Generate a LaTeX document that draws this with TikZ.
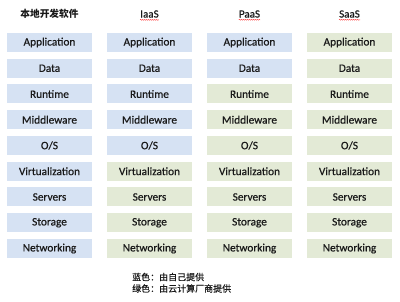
\documentclass[tikz,border=0pt]{standalone}
\usepackage{fontspec}
\setmainfont{Carlito}
\newfontfamily\boxfont{Carlito}[FakeBold=0.6]
\newfontfamily\cjk{Noto Sans CJK SC}
\newfontfamily\cjkm{Noto Sans CJK SC}[FakeBold=0.5]
\usetikzlibrary{decorations.pathmorphing}
\definecolor{bluebox}{RGB}{214,226,243}
\definecolor{greenbox}{RGB}{227,234,214}
\begin{document}
\begin{tikzpicture}[x=1pt,y=-1pt,
  cell/.style={minimum width=85pt,minimum height=19pt,inner sep=0pt,font=\boxfont\fontsize{11.3}{13}\selectfont,text=black!90},
  bcell/.style={cell,fill=bluebox},
  gcell/.style={cell,fill=greenbox},
  head/.style={inner sep=0pt,font=\boxfont\fontsize{11}{13}\selectfont,text=black!90},
  chead/.style={inner sep=0pt,font=\cjk\bfseries\fontsize{9.7}{12}\selectfont,text=black!90},
  legend/.style={inner sep=0pt,anchor=west,font=\cjkm\fontsize{9}{11}\selectfont,text=black!90},
  squig/.style={draw=red!80,line width=0.4pt,decorate,decoration={snake,amplitude=0.5pt,segment length=2pt}}
]
\useasboundingbox (0,0) rectangle (400,302);
\def\rows{Application,Data,Runtime,Middleware,O/S,Virtualization,Servers,Storage,Networking}
% headers
\node[chead] (h1) at (49.5,14) {本地开发软件};
\node[head] (h2) at (149.5,14) {IaaS};
\node[head] (h3) at (249.5,14) {PaaS};
\node[head] (h4) at (349.5,14) {SaaS};
\foreach \h in {h2,h3,h4}{
  \draw[squig] ([yshift=-2pt]\h.south west) -- ([yshift=-2pt]\h.south east);
}
% boxes
\foreach \t [count=\i] in \rows {
  \pgfmathsetmacro{\yy}{42.5+(\i-1)*25.75}
  \node[bcell] (a\i) at (49.5,\yy) {\t};
  \ifnum\i<6
    \node[bcell] (b\i) at (149.5,\yy) {\t};
  \else
    \node[gcell] (b\i) at (149.5,\yy) {\t};
  \fi
  \ifnum\i<3
    \node[bcell] (c\i) at (249.5,\yy) {\t};
  \else
    \node[gcell] (c\i) at (249.5,\yy) {\t};
  \fi
  \node[gcell] (d\i) at (349.5,\yy) {\t};
}
% legend
\node[legend] (l1) at (132,277) {蓝色：由自己提供};
\node[legend] (l2) at (132,288.5) {绿色：由云计算厂商提供};
\end{tikzpicture}
\end{document}
